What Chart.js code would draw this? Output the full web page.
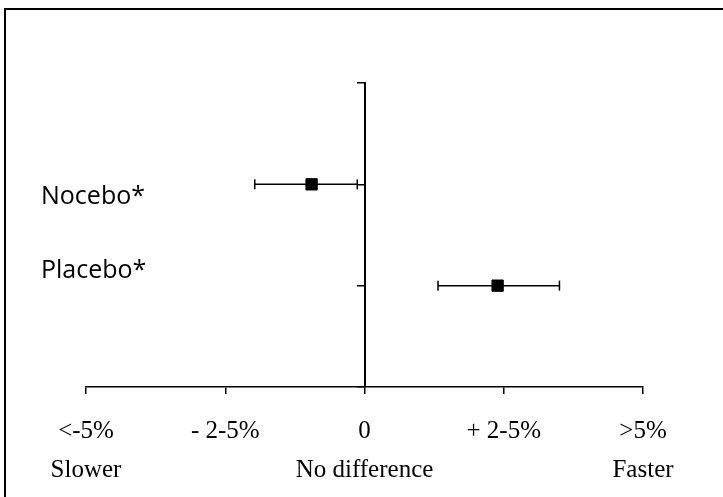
<!DOCTYPE html>
<html>
<head>
<meta charset="utf-8">
<script src="https://cdn.jsdelivr.net/npm/chart.js@4"></script>
<style>
  html, body { margin: 0; padding: 0; background: #fff; }
  #wrap { width: 723px; height: 497px; position: relative; }
</style>
</head>
<body>
<div id="wrap"><canvas id="chart"></canvas></div>
<script>
// groups, drawn top to bottom
const groups = ["Nocebo*", "Placebo*"];
const groupRows = [2, 1];
const means = [-0.95, 2.39];
const lows = [-1.97, 1.32];
const highs = [-0.13, 3.5];

// x axis
const tickValues = [-5, -2.5, 0, 2.5, 5];
const tickLabels = ["<-5%", "- 2-5%", "0", "+ 2-5%", ">5%"];
const tickSubLabels = ["Slower", "", "No difference", "", "Faster"];

const datasets = [];
groups.forEach((g, i) => {
  datasets.push({
    type: "line",
    label: g + " CI",
    data: [{ x: lows[i], y: groupRows[i] }, { x: highs[i], y: groupRows[i] }],
    borderColor: "#000",
    borderWidth: 1.5,
    pointStyle: "line",
    rotation: 90,
    pointRadius: 5,
    pointBorderWidth: 1.5,
    pointBorderColor: "#000",
    fill: false,
  });
});
datasets.push({
  type: "scatter",
  label: "Mean",
  data: groups.map((g, i) => ({ x: means[i], y: groupRows[i] })),
  pointStyle: "rect",
  pointRadius: 8,
  backgroundColor: "#000",
  borderColor: "#000",
  borderWidth: 1,
});

// frame + group names
const decor = {
  id: "decor",
  beforeDraw(chart) {
    const ctx = chart.ctx;
    ctx.save();
    ctx.strokeStyle = "#000";
    ctx.lineWidth = 2;
    ctx.strokeRect(5, 9, 1000, 1000);
    ctx.restore();
  },
  afterDraw(chart) {
    const ctx = chart.ctx;
    const y = chart.scales.y;
    const shift = [13, -15];
    ctx.save();
    ctx.fillStyle = "#000";
    ctx.font = '25px "Open Sans"';
    ctx.textBaseline = "middle";
    ctx.textAlign = "left";
    groups.forEach((g, i) => {
      ctx.fillText(g, 41, y.getPixelForValue(groupRows[i]) + shift[i]);
    });
    ctx.restore();
  },
};

new Chart(document.getElementById("chart"), {
  data: { datasets },
  options: {
    responsive: true,
    maintainAspectRatio: false,
    animation: false,
    layout: { padding: { left: 86, right: 80, top: 83, bottom: 0 } },
    plugins: { legend: { display: false }, tooltip: { enabled: false } },
    scales: {
      x: {
        type: "linear",
        min: -5,
        max: 5,
        afterBuildTicks: (s) => { s.ticks = tickValues.map((v) => ({ value: v })); },
        afterFit: (s) => { s.height = 110; },
        grid: { drawOnChartArea: false, drawTicks: true, tickLength: 7, color: "#000", lineWidth: 1.5 },
        border: { display: true, color: "#000", width: 1.5 },
        ticks: {
          maxRotation: 0,
          autoSkip: false,
          padding: 18,
          color: "#000",
          font: { family: '"Liberation Serif"', size: 25, lineHeight: 1.55 },
          callback: (v, i) => [tickLabels[i], tickSubLabels[i]],
        },
      },
      y: {
        type: "linear",
        min: 0,
        max: 3,
        position: { x: 0 },
        grid: { drawOnChartArea: false, drawTicks: true, tickLength: 7, color: "#000", lineWidth: 1.5 },
        border: { display: true, color: "#000", width: 2 },
        ticks: { stepSize: 1, display: false },
      },
    },
  },
  plugins: [decor],
});
</script>
</body>
</html>
